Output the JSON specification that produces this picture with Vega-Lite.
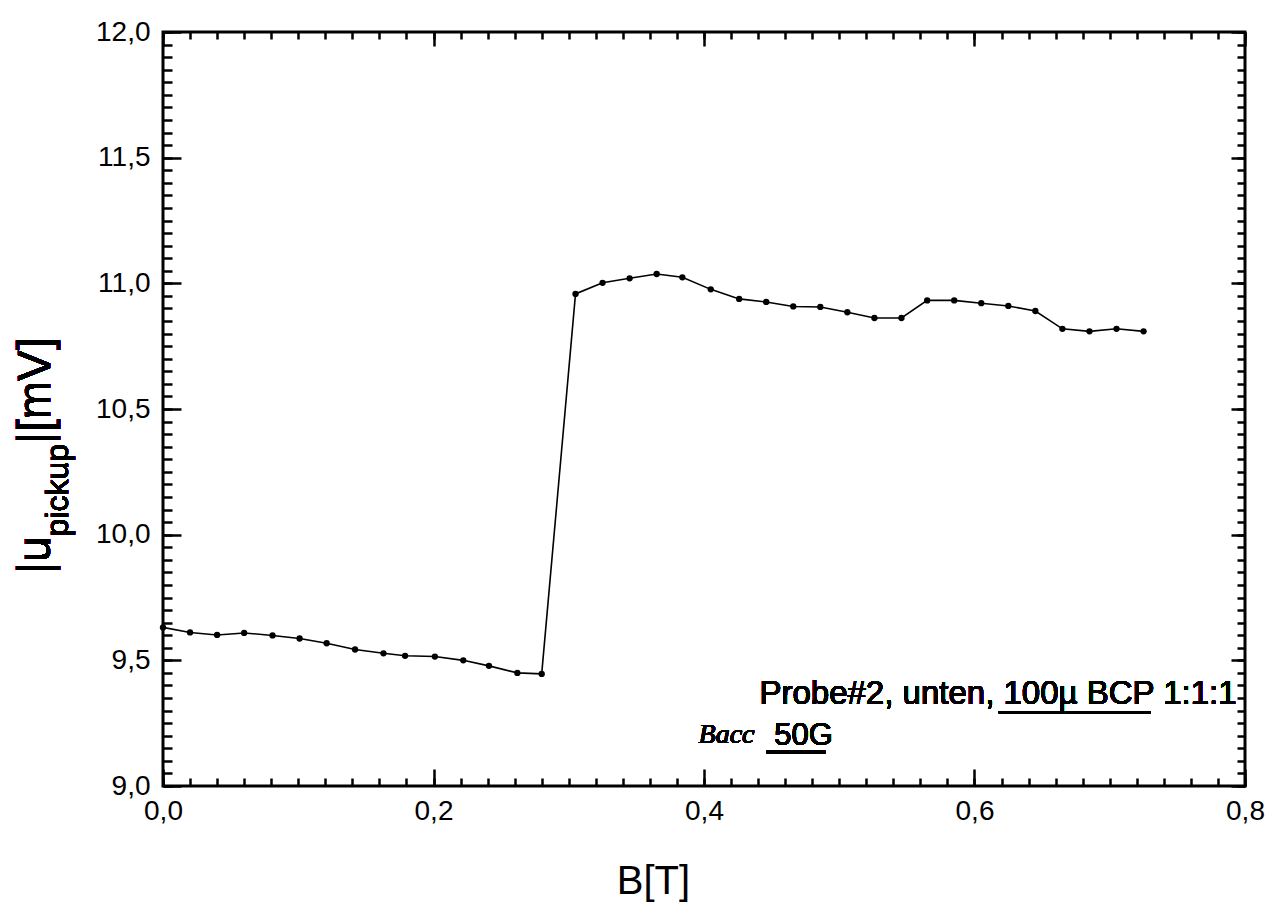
{
  "$schema": "https://vega.github.io/schema/vega-lite/v6.json",
  "width": 1082,
  "height": 754,
  "autosize": {"type": "none"},
  "padding": {"left": 163, "top": 32, "right": 36, "bottom": 135},
  "background": "white",
  "config": {
    "view": {"stroke": "black", "strokeWidth": 3},
    "axis": {"grid": false, "domain": false, "tickColor": "black", "tickWidth": 2.5, "labelColor": "black", "titleColor": "black"}
  },
  "resolve": {"axis": {"x": "independent", "y": "independent"}},
  "data": {"values": [
    {"B": 0.000, "U": 9.631}, {"B": 0.020, "U": 9.611}, {"B": 0.040, "U": 9.601}, {"B": 0.060, "U": 9.609},
    {"B": 0.081, "U": 9.599}, {"B": 0.101, "U": 9.587}, {"B": 0.121, "U": 9.568}, {"B": 0.142, "U": 9.543},
    {"B": 0.163, "U": 9.528}, {"B": 0.179, "U": 9.518}, {"B": 0.201, "U": 9.515}, {"B": 0.222, "U": 9.500},
    {"B": 0.241, "U": 9.478}, {"B": 0.262, "U": 9.450}, {"B": 0.280, "U": 9.446},
    {"B": 0.305, "U": 10.958}, {"B": 0.325, "U": 11.002}, {"B": 0.345, "U": 11.020}, {"B": 0.365, "U": 11.037},
    {"B": 0.384, "U": 11.024}, {"B": 0.405, "U": 10.976}, {"B": 0.426, "U": 10.938}, {"B": 0.446, "U": 10.926},
    {"B": 0.466, "U": 10.908}, {"B": 0.486, "U": 10.906}, {"B": 0.506, "U": 10.885}, {"B": 0.526, "U": 10.862},
    {"B": 0.546, "U": 10.862}, {"B": 0.565, "U": 10.932}, {"B": 0.585, "U": 10.932}, {"B": 0.605, "U": 10.921},
    {"B": 0.625, "U": 10.910}, {"B": 0.645, "U": 10.890}, {"B": 0.665, "U": 10.819}, {"B": 0.685, "U": 10.809},
    {"B": 0.705, "U": 10.819}, {"B": 0.725, "U": 10.809}
  ]},
  "layer": [
    {
      "mark": {"type": "line", "color": "black", "strokeWidth": 1.6},
      "encoding": {
        "x": {"field": "B", "type": "quantitative",
          "scale": {"domain": [0, 0.8], "nice": false, "zero": false},
          "axis": {"orient": "bottom", "values": [0, 0.2, 0.4, 0.6, 0.8], "ticks": false, "labelPadding": 11,
            "labelExpr": "replace(format(datum.value, '.1f'), '.', ',')",
            "labelFont": "Liberation Sans", "labelFontSize": 28, "labelFlush": false,
            "title": "B[T]", "titleFont": "Liberation Sans", "titleFontSize": 40, "titleFontWeight": "normal",
            "titleX": 490, "titleY": 107, "titleBaseline": "alphabetic", "titleAnchor": "middle"}},
        "y": {"field": "U", "type": "quantitative",
          "scale": {"domain": [9, 12], "nice": false, "zero": false},
          "axis": {"orient": "left", "values": [9, 9.5, 10, 10.5, 11, 11.5, 12], "ticks": false, "labelPadding": 13,
            "labelExpr": "replace(format(datum.value, '.1f'), '.', ',')",
            "labelFont": "Liberation Sans", "labelFontSize": 28, "labelFlush": false, "title": null}}
      }
    },
    {
      "mark": {"type": "point", "filled": true, "shape": "circle", "color": "black", "size": 40, "opacity": 1},
      "encoding": {
        "x": {"field": "B", "type": "quantitative",
          "axis": {"orient": "bottom", "values": [0, 0.2, 0.4, 0.6, 0.8], "labels": false, "tickSize": -17, "title": null}},
        "y": {"field": "U", "type": "quantitative",
          "axis": {"orient": "left", "values": [9, 9.5, 10, 10.5, 11, 11.5, 12], "labels": false, "tickSize": -18, "title": null}}
      }
    },
    {
      "mark": {"type": "text", "text": "Probe#2, unten, 100µ BCP 1:1:1", "font": "Liberation Sans", "fontSize": 33, "align": "left", "baseline": "alphabetic", "color": "black"},
      "encoding": {
        "x": {"datum": 0.441,
          "axis": {"orient": "bottom", "values": [0, 0.02, 0.04, 0.06, 0.08, 0.1, 0.12, 0.14, 0.16, 0.18, 0.2, 0.22, 0.24, 0.26, 0.28, 0.3, 0.32, 0.34, 0.36, 0.38, 0.4, 0.42, 0.44, 0.46, 0.48, 0.5, 0.52, 0.54, 0.56, 0.58, 0.6, 0.62, 0.64, 0.66, 0.68, 0.7, 0.72, 0.74, 0.76, 0.78, 0.8], "labels": false, "tickSize": -8, "title": null}},
        "y": {"datum": 9.327,
          "axis": {"orient": "left", "values": [9, 9.05, 9.1, 9.15, 9.2, 9.25, 9.3, 9.35, 9.4, 9.45, 9.5, 9.55, 9.6, 9.65, 9.7, 9.75, 9.8, 9.85, 9.9, 9.95, 10, 10.05, 10.1, 10.15, 10.2, 10.25, 10.3, 10.35, 10.4, 10.45, 10.5, 10.55, 10.6, 10.65, 10.7, 10.75, 10.8, 10.85, 10.9, 10.95, 11, 11.05, 11.1, 11.15, 11.2, 11.25, 11.3, 11.35, 11.4, 11.45, 11.5, 11.55, 11.6, 11.65, 11.7, 11.75, 11.8, 11.85, 11.9, 11.95, 12], "labels": false, "tickSize": -9, "title": null}}
      }
    },
    {
      "mark": {"type": "text", "text": "Bacc", "font": "Liberation Serif", "fontStyle": "italic", "fontSize": 28, "align": "left", "baseline": "alphabetic", "color": "black"},
      "encoding": {
        "x": {"datum": 0.396,
          "axis": {"orient": "top", "values": [0, 0.2, 0.4, 0.6, 0.8], "labels": false, "tickSize": -14, "title": null}},
        "y": {"datum": 9.17,
          "axis": {"orient": "right", "values": [9, 9.5, 10, 10.5, 11, 11.5, 12], "labels": false, "tickSize": -14, "title": null}}
      }
    },
    {
      "mark": {"type": "text", "text": "50G", "font": "Liberation Sans", "fontSize": 31, "align": "left", "baseline": "alphabetic", "color": "black"},
      "encoding": {
        "x": {"datum": 0.452,
          "axis": {"orient": "top", "values": [0, 0.02, 0.04, 0.06, 0.08, 0.1, 0.12, 0.14, 0.16, 0.18, 0.2, 0.22, 0.24, 0.26, 0.28, 0.3, 0.32, 0.34, 0.36, 0.38, 0.4, 0.42, 0.44, 0.46, 0.48, 0.5, 0.52, 0.54, 0.56, 0.58, 0.6, 0.62, 0.64, 0.66, 0.68, 0.7, 0.72, 0.74, 0.76, 0.78, 0.8], "labels": false, "tickSize": -7, "title": null}},
        "y": {"datum": 9.165,
          "axis": {"orient": "right", "values": [9, 9.05, 9.1, 9.15, 9.2, 9.25, 9.3, 9.35, 9.4, 9.45, 9.5, 9.55, 9.6, 9.65, 9.7, 9.75, 9.8, 9.85, 9.9, 9.95, 10, 10.05, 10.1, 10.15, 10.2, 10.25, 10.3, 10.35, 10.4, 10.45, 10.5, 10.55, 10.6, 10.65, 10.7, 10.75, 10.8, 10.85, 10.9, 10.95, 11, 11.05, 11.1, 11.15, 11.2, 11.25, 11.3, 11.35, 11.4, 11.45, 11.5, 11.55, 11.6, 11.65, 11.7, 11.75, 11.8, 11.85, 11.9, 11.95, 12], "labels": false, "tickSize": -8, "title": null}}
      }
    },
    {
      "mark": {"type": "rule", "color": "black", "strokeWidth": 2},
      "encoding": {
        "x": {"datum": 0.618, "axis": null},
        "x2": {"datum": 0.73},
        "y": {"datum": 9.293, "axis": null}
      }
    },
    {
      "mark": {"type": "rule", "color": "black", "strokeWidth": 2.5},
      "encoding": {
        "x": {"datum": 0.446, "axis": null},
        "x2": {"datum": 0.49},
        "y": {"datum": 9.135, "axis": null}
      }
    },
    {
      "mark": {"type": "text", "text": "|u", "font": "Liberation Sans", "fontSize": 46, "angle": 270, "align": "left", "baseline": "alphabetic", "color": "black"},
      "encoding": {
        "x": {"datum": -0.0835, "axis": null},
        "y": {"datum": 9.844, "axis": null}
      }
    },
    {
      "mark": {"type": "text", "text": "pickup", "font": "Liberation Sans", "fontSize": 32, "angle": 270, "align": "left", "baseline": "alphabetic", "color": "black"},
      "encoding": {
        "x": {"datum": -0.0700, "axis": null},
        "y": {"datum": 9.993, "axis": null}
      }
    },
    {
      "mark": {"type": "text", "text": "|[mV]", "font": "Liberation Sans", "fontSize": 46, "angle": 270, "align": "left", "baseline": "alphabetic", "color": "black"},
      "encoding": {
        "x": {"datum": -0.0835, "axis": null},
        "y": {"datum": 10.361, "axis": null}
      }
    }
  ]
}
